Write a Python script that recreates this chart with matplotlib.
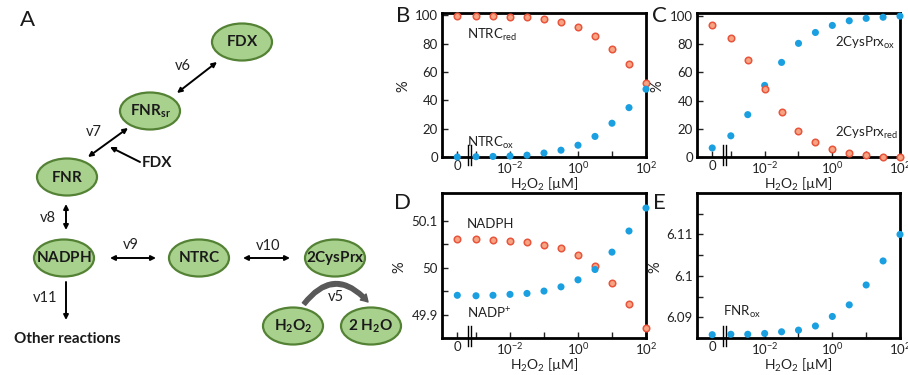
import numpy as np
import matplotlib
matplotlib.use("Agg")
import matplotlib.pyplot as plt
from matplotlib.patches import Ellipse, FancyArrowPatch
import matplotlib.transforms as mtransforms

plt.rcParams['font.family'] = ['Lato', 'DejaVu Sans']
plt.rcParams['mathtext.fontset'] = 'custom'
plt.rcParams['mathtext.rm'] = 'Lato'
plt.rcParams['mathtext.it'] = 'Lato:italic'
plt.rcParams['mathtext.bf'] = 'Lato:bold'
plt.rcParams['mathtext.default'] = 'regular'

# ---------------- data ----------------
h2o2 = [0, 1e-3, 10**-2.5, 1e-2, 10**-1.5, 1e-1, 10**-0.5, 1, 10**0.5, 10, 10**1.5, 100]

ntrc_red = [99.5, 99.5, 99.2, 99.0, 98.6, 97.2, 95.2, 91.5, 85.5, 76.0, 65.3, 52.3]
ntrc_ox = [0.0, 0.2, 0.4, 0.7, 1.3, 2.8, 4.8, 8.3, 14.5, 23.8, 34.8, 47.8]

prx_ox = [6.4, 15.0, 30.0, 50.7, 67.0, 80.5, 88.2, 93.2, 96.5, 98.2, 99.0, 99.8]
prx_red = [93.3, 84.0, 68.8, 48.2, 32.0, 18.7, 10.8, 6.0, 3.0, 1.2, 0.3, 0.0]

nadph = [50.060, 50.060, 50.059, 50.056, 50.054, 50.049, 50.042, 50.027, 50.004, 49.967, 49.922, 49.872]
nadp = [49.941, 49.940, 49.941, 49.943, 49.945, 49.950, 49.959, 49.974, 49.996, 50.033, 50.078, 50.127]

fnr_ox = [6.0858, 6.0859, 6.0859, 6.0861, 6.0865, 6.0869, 6.0879, 6.0902, 6.0930, 6.0978, 6.1036, 6.1100]

xtick_vals = [0, 1e-3, 1e-2, 1e-1, 1, 10, 100]
xtick_labels = ['0', '', '$10^{-2}$', '', '$10^{0}$', '', '$10^{2}$']

ZERO_POS = 10**-3.55   # where the "0" concentration sits on the log axis
BREAK_POS = 10**-3.18

ORANGE_FC = '#f6a482'
ORANGE_EC = '#e8553c'
BLUE = '#1a9fe0'
GREEN_FC = '#a9d18e'
GREEN_EC = '#548235'
TXT = '#222222'

W, H = 908, 375
fig = plt.figure(figsize=(W / 100, H / 100), dpi=100)

def xpos(vals):
    return [ZERO_POS if v == 0 else v for v in vals]

def px_axes(l, t, r, b):
    return fig.add_axes([l / W, 1 - b / H, (r - l) / W, (b - t) / H])

def style(ax, ylim, yticks, yticklabels, ylab_x, minor=None):
    ax.set_xscale('log')
    ax.set_xlim(1e-4, 1e2)
    ax.set_ylim(*ylim)
    ax.set_xticks(xpos(xtick_vals))
    ax.set_xticklabels(xtick_labels)
    ax.xaxis.set_minor_locator(matplotlib.ticker.NullLocator())
    ax.set_yticks(yticks)
    ax.set_yticklabels(yticklabels)
    if minor is not None:
        ax.set_yticks(minor, minor=True)
    ax.tick_params(axis='both', which='both', direction='in', labelsize=9.5,
                   width=1.0, length=4, colors=TXT, labelcolor=TXT)
    ax.tick_params(axis='x', pad=2)
    ax.tick_params(axis='y', pad=3)
    for s in ax.spines.values():
        s.set_linewidth(2.0)
        s.set_color('black')
    ax.set_xlabel('H$_2$O$_2$ [µM]', fontsize=10, labelpad=0, color=TXT)
    ax.set_ylabel('%', fontsize=10.5, color=TXT)
    ax.yaxis.set_label_coords(ylab_x, 0.49)
    # axis break marks
    trans = mtransforms.blended_transform_factory(ax.transData, ax.transAxes)
    for f in (10**-0.045, 10**0.045):
        ax.plot([BREAK_POS * f, BREAK_POS * f], [-0.055, 0.083], color='black',
                lw=1.0, transform=trans, clip_on=False, zorder=5)

def orange(ax, y):
    ax.scatter(xpos(h2o2), y, s=22, facecolor=ORANGE_FC, edgecolor=ORANGE_EC,
               linewidth=1.1, zorder=6, clip_on=False)

def blue(ax, y):
    ax.scatter(xpos(h2o2), y, s=26, facecolor=BLUE, edgecolor='none',
               zorder=6, clip_on=False)

# ---------- diagram (panel A) ----------
ax0 = fig.add_axes([0, 0, 1, 1], zorder=-1)
ax0.set_xlim(0, W)
ax0.set_ylim(H, 0)
ax0.axis('off')

nodes = {
    'FDX': (242, 42, r'$\mathbf{FDX}$'),
    'FNRsr': (150, 111, r'$\mathbf{FNR}_{\mathbf{sr}}$'),
    'FNR': (67, 177, r'$\mathbf{FNR}$'),
    'NADPH': (64, 258, r'$\mathbf{NADPH}$'),
    'NTRC': (199, 258, r'$\mathbf{NTRC}$'),
    'Prx': (335, 258, r'$\mathbf{2CysPrx}$'),
    'H2O2': (293, 326, r'$\mathbf{H_2O_2}$'),
    'H2O': (371, 326, r'$\mathbf{2\ H_2O}$'),
}
for key, (cx, cy, lab) in nodes.items():
    ax0.add_patch(Ellipse((cx, cy), 60, 37, facecolor=GREEN_FC, edgecolor=GREEN_EC, lw=1.6))
    ax0.text(cx, cy, lab, ha='center', va='center', fontsize=11, color='#1a1a1a')

def darrow(p1, p2):
    ax0.add_patch(FancyArrowPatch(p1, p2, arrowstyle='<|-|>', mutation_scale=7,
                                  lw=1.4, color='black', shrinkA=0, shrinkB=0))

def sarrow(p1, p2):
    ax0.add_patch(FancyArrowPatch(p1, p2, arrowstyle='-|>', mutation_scale=7,
                                  lw=1.4, color='black', shrinkA=0, shrinkB=0))

darrow((177, 93), (217, 62))
darrow((88, 157), (128, 128))
sarrow((140, 162), (110, 147))
darrow((66, 204), (66, 230))
darrow((110, 258), (156, 258))
darrow((243, 258), (290, 258))
sarrow((66, 282), (66, 320))
ax0.add_patch(FancyArrowPatch((304, 304), (368, 302), connectionstyle='arc3,rad=-0.6',
                              arrowstyle='simple,head_width=6,head_length=5,tail_width=3',
                              color='#595959', shrinkA=0, shrinkB=0))

for txt, x, y in [('v6', 183, 66), ('v7', 94, 132), ('v8', 48, 218), ('v9', 131, 245),
                  ('v10', 268, 246), ('v11', 45, 298), ('v5', 336, 297)]:
    ax0.text(x, y, txt, ha='center', va='center', fontsize=10.5, color=TXT)
ax0.text(157, 163, 'FDX', ha='center', va='center', fontsize=11, fontweight='bold', color='#1a1a1a')
ax0.text(67, 339, 'Other reactions', ha='center', va='center', fontsize=11,
         fontweight='bold', color='#1a1a1a')
ax0.text(28, 20, 'A', ha='center', va='center', fontsize=16, color='#1a1a1a')

# ---------- panel B ----------
axB = px_axes(442, 13, 646, 157)
style(axB, (0, 101.5), [0, 20, 40, 60, 80, 100], ['0', '20', '40', '60', '80', '100'], -0.155)
orange(axB, ntrc_red)
blue(axB, ntrc_ox)
axB.text(10**-3.26, 86, 'NTRC$_{red}$', fontsize=9.5, va='center', color=TXT)
axB.text(10**-3.26, 10, 'NTRC$_{ox}$', fontsize=9.5, va='center', color=TXT)

# ---------- panel C ----------
axC = px_axes(697, 13, 900, 157)
style(axC, (0, 102), [0, 20, 40, 60, 80, 100], ['0', '20', '40', '60', '80', '100'], -0.16)
blue(axC, prx_ox)
orange(axC, prx_red)
axC.text(10**0.08, 81, '2CysPrx$_{ox}$', fontsize=9.5, va='center', color=TXT)
axC.text(10**0.08, 17, '2CysPrx$_{red}$', fontsize=9.5, va='center', color=TXT)

# ---------- panel D ----------
axD = px_axes(442, 193, 646, 338)
style(axD, (49.85, 50.159), [49.9, 50.0, 50.1], ['49.9', '50', '50.1'], -0.175,
      minor=[49.95, 50.05])
orange(axD, nadph)
blue(axD, nadp)
axD.text(10**-3.26, 50.093, 'NADPH', fontsize=9.5, va='center', color=TXT)
axD.text(10**-3.26, 49.903, 'NADP$^{+}$', fontsize=9.5, va='center', color=TXT)

# ---------- panel E ----------
axE = px_axes(697, 193, 900, 338)
style(axE, (6.085, 6.12), [6.09, 6.10, 6.11], ['6.09', '6.1', '6.11'], -0.17,
      minor=[6.095, 6.105, 6.115])
blue(axE, fnr_ox)
axE.text(10**-3.23, 6.0913, 'FNR$_{ox}$', fontsize=9.5, va='center', color=TXT)

for lab, x, y in [('B', 403, 16), ('C', 659, 16), ('D', 403, 203), ('E', 659, 203)]:
    fig.text(x / W, 1 - y / H, lab, ha='center', va='center', fontsize=16, color='#1a1a1a')

fig.savefig('out.png', dpi=100)
